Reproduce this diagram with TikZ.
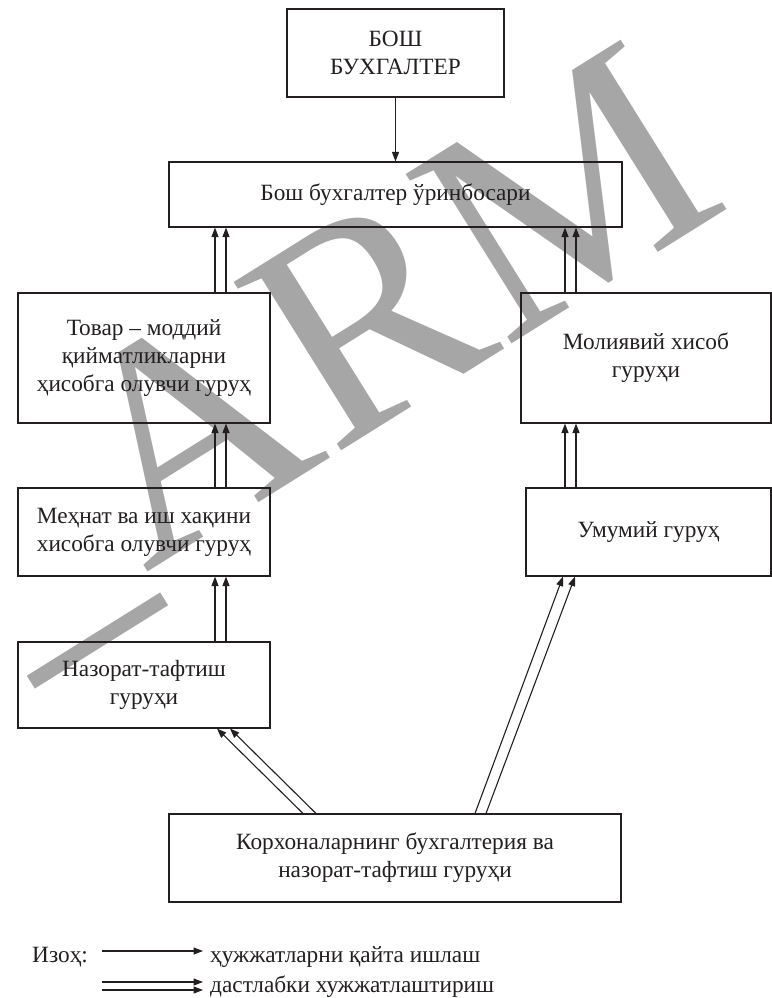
\documentclass[tikz,border=0pt]{standalone}
\usepackage{fontspec}
\setmainfont{Liberation Serif}
\usetikzlibrary{arrows.meta,calc}
\definecolor{ink}{RGB}{35,31,32}
\definecolor{wmgray}{RGB}{166,166,166}
\begin{document}
\begin{tikzpicture}[x=1bp,y=-1bp,
  box/.style={draw=ink,line width=1.1bp,inner sep=0pt,align=center,
    font=\fontsize{23.3bp}{28bp}\selectfont,text=ink},
  arr/.style={draw=ink,line width=1.1bp,-{Triangle[length=9.5bp,width=7bp]}},
  lbl/.style={inner sep=0pt,font=\fontsize{23.3bp}{28bp}\selectfont,text=ink},
  wmark/.style={inner sep=0pt,text=wmgray,font=\fontsize{305bp}{305bp}\selectfont}]
\useasboundingbox (0,0) rectangle (772,998);
% watermark
\node[wmark,rotate=32,anchor=base east] (wm) at (735,205) {\_ARM};
% boxes
\node[box,minimum width=217bp,minimum height=88bp] (top) at (395.5,53) {БОШ\\БУХГАЛТЕР};
\node[box,minimum width=453bp,minimum height=65bp] (b2) at (395.5,194.5) {Бош бухгалтер ўринбосари};
\node[box,minimum width=252bp,minimum height=130bp] (b3l) at (144,358) {Товар – моддий\\қийматликларни\\ҳисобга олувчи гуруҳ};
\node[box,minimum width=250bp,minimum height=130bp] (b3r) at (646,358) {Молиявий хисоб\\гуруҳи};
\node[box,minimum width=252bp,minimum height=88bp] (b4l) at (144,532) {Меҳнат ва иш хақини\\хисобга олувчи гуруҳ};
\node[box,minimum width=245bp,minimum height=88bp] (b4r) at (648.5,532) {Умумий гуруҳ};
\node[box,minimum width=252bp,minimum height=86bp] (b5) at (144,685) {Назорат-тафтиш\\гуруҳи};
\node[box,minimum width=452bp,minimum height=88bp] (b6) at (395,858) {Корхоналарнинг бухгалтерия ва\\назорат-тафтиш гуруҳи};
% column positions
\coordinate (L1) at (215,0);
\coordinate (L2) at (226,0);
\coordinate (R1) at (565,0);
\coordinate (R2) at (576,0);
\coordinate (D1s) at (303,0);
\coordinate (D2s) at (316,0);
\coordinate (D1e) at (217,0);
\coordinate (D2e) at (230,0);
\coordinate (E1s) at (475,0);
\coordinate (E2s) at (486,0);
\coordinate (E1e) at (563,0);
\coordinate (E2e) at (575,0);
% connectors
\draw[arr] (top.south) -- (b2.north);
\foreach \c in {L1,L2}{
  \draw[arr] (b3l.north -| \c) -- (b2.south -| \c);
  \draw[arr] (b4l.north -| \c) -- (b3l.south -| \c);
  \draw[arr] (b5.north -| \c) -- (b4l.south -| \c);
}
\foreach \c in {R1,R2}{
  \draw[arr] (b3r.north -| \c) -- (b2.south -| \c);
  \draw[arr] (b4r.north -| \c) -- (b3r.south -| \c);
}
\draw[arr] (b6.north -| D1s) -- (b5.south -| D1e);
\draw[arr] (b6.north -| D2s) -- (b5.south -| D2e);
\draw[arr] (b6.north -| E1s) -- (b4r.south -| E1e);
\draw[arr] (b6.north -| E2s) -- (b4r.south -| E2e);
% legend
\node[lbl,anchor=base west] (izoh) at (32,962) {Изоҳ:};
\coordinate (la1) at (102,951);
\coordinate (la2) at (203,951);
\coordinate (lb1) at (102,982);
\coordinate (lb2) at (203,982);
\coordinate (lc1) at (102,990);
\coordinate (lc2) at (203,990);
\draw[arr] (la1) -- (la2);
\draw[arr] (lb1) -- (lb2);
\draw[arr] (lc1) -- (lc2);
\node[lbl,anchor=base west] (t1) at (210,962) {ҳужжатларни қайта ишлаш};
\node[lbl,anchor=base west] (t2) at (210,992) {дастлабки хужжатлаштириш};
\end{tikzpicture}
\end{document}
